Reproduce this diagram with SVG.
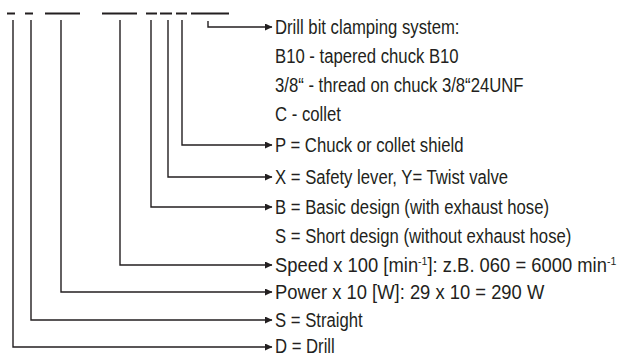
<svg xmlns="http://www.w3.org/2000/svg" width="621" height="356" viewBox="0 0 621 356">
<style>
.t{font-family:"Liberation Sans",Arial,sans-serif;font-size:20px;fill:#231f20}
.c{fill:none;stroke:#231f20;stroke-width:1.4}
.d{fill:none;stroke:#231f20;stroke-width:2.2}
</style>
<defs>
<marker id="ah" markerUnits="userSpaceOnUse" markerWidth="8" markerHeight="7" refX="7" refY="3.5" orient="auto">
<path d="M0,0 L7.5,3.5 L0,7 z" fill="#231f20"/>
</marker>
</defs>
<rect width="621" height="356" fill="#fff"/>
<g id="code">
<path class="d" d="M7,13.5H15M25,13.5H33M45,13.5H80M102,13.5H137M146,13.5H157M160,13.5H172M176,13.5H187M191,13.5H229"/>
</g>
<g id="connectors">
<path class="c" marker-end="url(#ah)" d="M208,21V27H272"/>
<path class="c" marker-end="url(#ah)" d="M182,20V145H272"/>
<path class="c" marker-end="url(#ah)" d="M168,20V177H272"/>
<path class="c" marker-end="url(#ah)" d="M151,20V207H272"/>
<path class="c" marker-end="url(#ah)" d="M120,20V265H272"/>
<path class="c" marker-end="url(#ah)" d="M61,20V292H272"/>
<path class="c" marker-end="url(#ah)" d="M31,20V320H272"/>
<path class="c" marker-end="url(#ah)" d="M13,20V347H272"/>
</g>
<g id="clamping">
<text class="t" transform="translate(275,34) scale(0.835,1)">Drill bit clamping system:</text>
<text class="t" transform="translate(275,63) scale(0.835,1)">B10 - tapered chuck B10</text>
<text class="t" transform="translate(275,92) scale(0.835,1)">3/8“ - thread on chuck 3/8“24UNF</text>
<text class="t" transform="translate(275,121) scale(0.835,1)">C - collet</text>
</g>
<g id="shield"><text class="t" transform="translate(275,152) scale(0.835,1)">P = Chuck or collet shield</text></g>
<g id="lever"><text class="t" transform="translate(275,184) scale(0.835,1)">X = Safety lever, Y= Twist valve</text></g>
<g id="design">
<text class="t" transform="translate(275,214) scale(0.835,1)">B = Basic design (with exhaust hose)</text>
<text class="t" transform="translate(275,243) scale(0.835,1)">S = Short design (without exhaust hose)</text>
</g>
<g id="speed"><text class="t" transform="translate(275,272) scale(0.92,1)">Speed x 100 [min<tspan font-size="11.5" dy="-7.5">-1</tspan><tspan dy="7.5">]: z.B. 060 = 6000 min</tspan><tspan font-size="11.5" dy="-7.5">-1</tspan></text></g>
<g id="power"><text class="t" transform="translate(275,299) scale(0.92,1)">Power x 10 [W]: 29 x 10 = 290 W</text></g>
<g id="straight"><text class="t" transform="translate(275,327) scale(0.835,1)">S = Straight</text></g>
<g id="drill"><text class="t" transform="translate(275,353) scale(0.835,1)">D = Drill</text></g>
</svg>
